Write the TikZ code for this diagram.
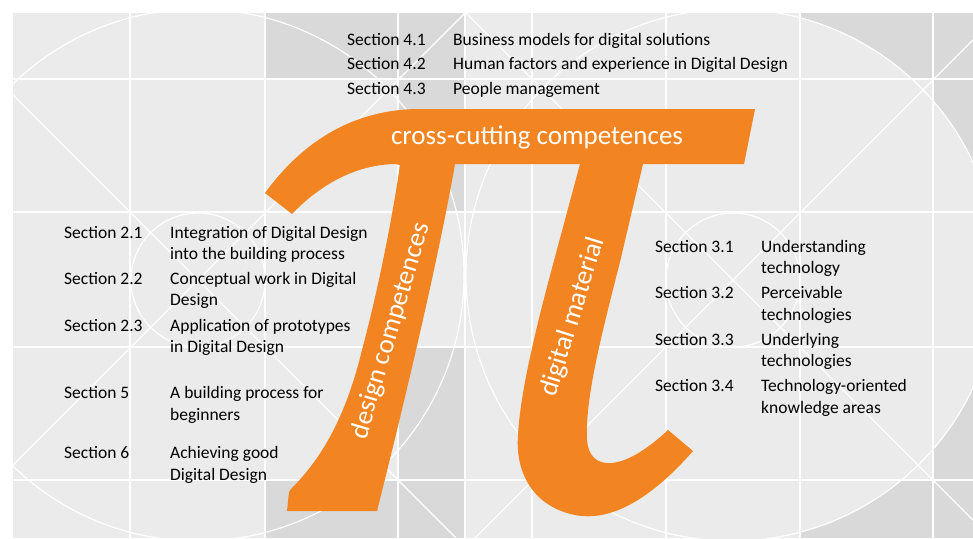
\documentclass[tikz,border=0pt]{standalone}
\usepackage{fontspec}
\setmainfont{Carlito}
\definecolor{bglight}{RGB}{235,235,235}
\definecolor{bgdark}{RGB}{217,217,217}
\definecolor{piorange}{RGB}{242,132,34}
\begin{document}
\begin{tikzpicture}[x=1pt,y=-1pt,
  sectxt/.style={anchor=base west, inner sep=0pt, text=black, font=\fontsize{17.5}{21}\selectfont},
  pilabel/.style={inner sep=0pt, text=white, font=\fontsize{27}{32}\selectfont},
  gridline/.style={white, line width=1.2pt}]
\useasboundingbox (0,0) rectangle (973,538);
\fill[white] (0,0) rectangle (973,538);
\begin{scope}
  \clip (13,13) rectangle (973,538);
  \fill[bglight] (13,13) rectangle (973,538);
  % right dark patches (outside right circle)
  \fill[bgdark] (800,13) rectangle (973,79);
  \fill[bgdark] (933,13) rectangle (973,212);
  \fill[bgdark] (800,480) rectangle (973,538);
  \fill[bgdark] (933,347) rectangle (973,538);
  \fill[bglight] (732,275) circle (266);
  % middle dark patches
  \fill[bgdark] (265,13) rectangle (398,79);
  \fill[bgdark] (398,13) rectangle (465,212);
  \fill[bgdark] (265,480) rectangle (398,538);
  \fill[bgdark] (398,347) rectangle (465,538);
  % grid
  \foreach \gx in {130,265,398,465,532,666,800,933}
    \draw[gridline] (\gx,13) -- (\gx,538);
  \foreach \gy in {79,212,347,480}
    \draw[gridline] (13,\gy) -- (973,\gy);
  % circles
  \draw[gridline] (198,275) circle (266);
  \draw[gridline] (732,275) circle (266);
  \draw[gridline] (198,280) circle (67);
  \draw[gridline] (733,280) circle (67);
  % diagonals
  \draw[gridline] (13,95) -- (456,538);
  \draw[gridline] (13,465) -- (465,13);
  \draw[gridline] (465,12) -- (991,538);
  \draw[gridline] (475,538) -- (1001,12);
\end{scope}
% pi symbol
\fill[piorange] (265,193) .. controls (300,145) and (350,109) .. (420,109)
  -- (755,109) -- (744,164) -- (643,164) -- (620,262)
  .. controls (600,340) and (585,400) .. (587,440)
  .. controls (589,470) and (620,475) .. (668,430)
  -- (693,451)
  .. controls (650,500) and (610,522) .. (575,515)
  .. controls (535,507) and (515,475) .. (518,435)
  .. controls (520,400) and (530,350) .. (552,268)
  -- (580,164) -- (455,164)
  .. controls (440,250) and (410,380) .. (377,511)
  -- (287,511) -- (289,492) -- (291,489)
  .. controls (320,460) and (345,420) .. (362,350)
  .. controls (378,290) and (392,220) .. (400,165)
  -- (395,164)
  .. controls (350,165) and (315,190) .. (292,214) -- cycle;
\node[pilabel, anchor=base] (cross) at (537,144) {cross-cutting competences};
\node[pilabel, rotate=73.5] (design) at (391,331) {design competences};
\node[pilabel, rotate=72.7] (digital) at (573,317) {digital material};
% top sections
\node[sectxt] (s41) at (347,45) {Section 4.1};
\node[sectxt] (d41) at (453,45) {Business models for digital solutions};
\node[sectxt] (s42) at (347,69.5) {Section 4.2};
\node[sectxt] (d42) at (453,69.5) {Human factors and experience in Digital Design};
\node[sectxt] (s43) at (347,94) {Section 4.3};
\node[sectxt] (d43) at (453,94) {People management};
% left sections
\node[sectxt] (s21) at (64,238) {Section 2.1};
\node[sectxt] (d21a) at (170,238) {Integration of Digital Design};
\node[sectxt] (d21b) at (170,259) {into the building process};
\node[sectxt] (s22) at (64,284) {Section 2.2};
\node[sectxt] (d22a) at (170,284) {Conceptual work in Digital};
\node[sectxt] (d22b) at (170,305) {Design};
\node[sectxt] (s23) at (64,331) {Section 2.3};
\node[sectxt] (d23a) at (170,331) {Application of prototypes};
\node[sectxt] (d23b) at (170,352) {in Digital Design};
\node[sectxt] (s5) at (64,398) {Section 5};
\node[sectxt] (d5a) at (170,398) {A building process for};
\node[sectxt] (d5b) at (170,420) {beginners};
\node[sectxt] (s6) at (64,458) {Section 6};
\node[sectxt] (d6a) at (170,458) {Achieving good};
\node[sectxt] (d6b) at (170,480) {Digital Design};
% right sections
\node[sectxt] (s31) at (655,252) {Section 3.1};
\node[sectxt] (d31a) at (761,252) {Understanding};
\node[sectxt] (d31b) at (761,273.5) {technology};
\node[sectxt] (s32) at (655,298) {Section 3.2};
\node[sectxt] (d32a) at (761,298) {Perceivable};
\node[sectxt] (d32b) at (761,320) {technologies};
\node[sectxt] (s33) at (655,345) {Section 3.3};
\node[sectxt] (d33a) at (761,345) {Underlying};
\node[sectxt] (d33b) at (761,366) {technologies};
\node[sectxt] (s34) at (655,391) {Section 3.4};
\node[sectxt] (d34a) at (761,391) {Technology-oriented};
\node[sectxt] (d34b) at (761,413) {knowledge areas};
\end{tikzpicture}
\end{document}
